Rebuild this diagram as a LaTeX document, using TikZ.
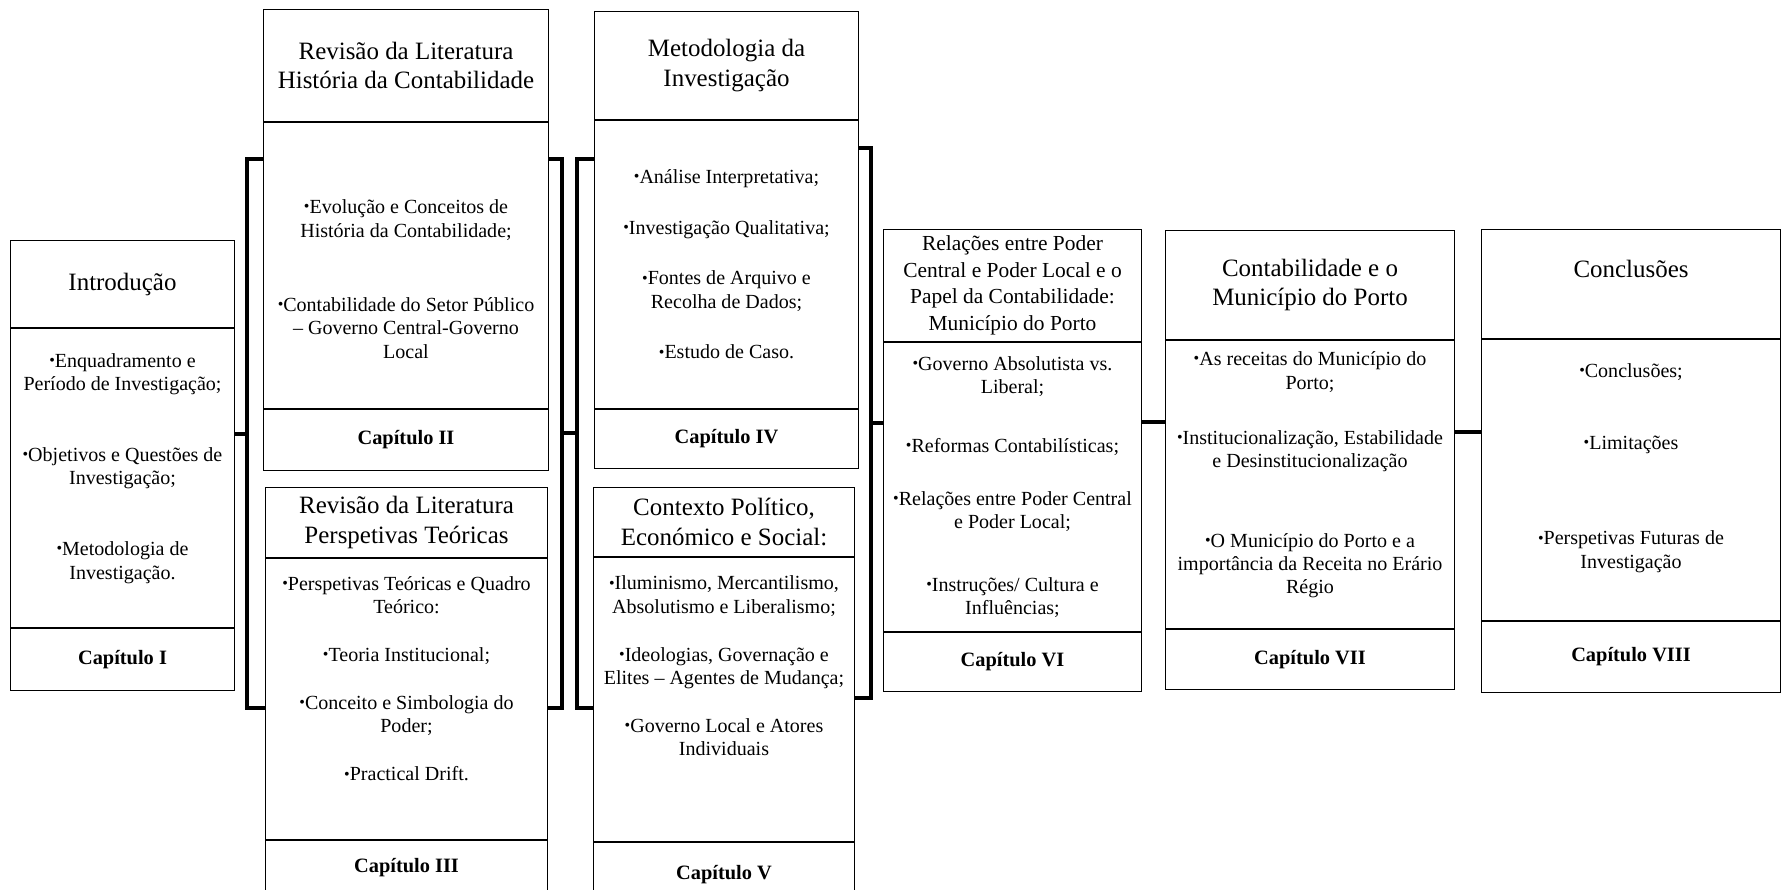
\documentclass[tikz,border=0pt]{standalone}
\usepackage{fontspec}
\usepackage{graphicx}
\setmainfont{Liberation Serif}
\usetikzlibrary{positioning}

\newcommand{\itm}{\raisebox{0.2ex}{\scalebox{0.8}{\textbullet}}}

\begin{document}
\begin{tikzpicture}[
    x=0.02cm, y=-0.02cm,
    box/.style={draw, line width=0.6pt, align=center, inner sep=1pt},
    head/.style={box, font=\fontsize{14.2}{17}\selectfont},
    body/.style={box, font=\fontsize{11.4}{13.3}\selectfont},
    foot/.style={box, font=\fontsize{11.6}{14}\selectfont\bfseries},
    bar/.style={line width=1.8pt}
  ]
    \useasboundingbox (0,0) rectangle (1787,889);
    \clip (0,0) rectangle (1787,889);

    % Capitulo I
    \node[head, anchor=north west, minimum width=4.48cm, minimum height=1.74cm] (c1h) at (10,240) {Introdução};
    \node[body, below=0pt of c1h, minimum width=4.48cm, minimum height=5.98cm] (c1b) {\itm Enquadramento e\\Período de Investigação;\\[27pt]\itm Objetivos e Questões de\\Investigação;\\[27pt]\itm Metodologia de\\Investigação.\\\mbox{}};
    \node[foot, below=0pt of c1b, minimum width=4.48cm, minimum height=1.24cm] (c1f) {Capítulo I};

    % Capitulo II
    \node[head, anchor=north west, minimum width=5.7cm, minimum height=2.24cm] (c2h) at (263,9) {Revisão da Literatura\\História da Contabilidade};
    \node[body, below=0pt of c2h, minimum width=5.7cm, minimum height=5.72cm] (c2b) {\mbox{}\\[10pt]\itm Evolução e Conceitos de\\História da Contabilidade;\\[29pt]\itm Contabilidade do Setor Público\\– Governo Central-Governo\\Local};
    \node[foot, below=0pt of c2b, minimum width=5.7cm, minimum height=1.22cm] (c2f) {Capítulo II};

    % Capitulo III
    \node[head, anchor=north west, minimum width=5.64cm, minimum height=1.4cm] (c3h) at (265,487) {Revisão da Literatura\\Perspetivas Teóricas};
    \node[body, below=0pt of c3h, minimum width=5.64cm, minimum height=5.62cm] (c3b) {\itm Perspetivas Teóricas e Quadro\\Teórico:\\[14pt]\itm Teoria Institucional;\\[14pt]\itm Conceito e Simbologia do\\Poder;\\[14pt]\itm Practical Drift.\\[10pt]\mbox{}};
    \node[foot, below=0pt of c3b, minimum width=5.64cm, minimum height=1.08cm] (c3f) {Capítulo III};

    % Capitulo IV
    \node[head, anchor=north west, minimum width=5.28cm, minimum height=2.16cm] (c4h) at (594,11) {Metodologia da\\Investigação};
    \node[body, below=0pt of c4h, minimum width=5.28cm, minimum height=5.76cm] (c4b) {\itm Análise Interpretativa;\\[15.5pt]\itm Investigação Qualitativa;\\[15.5pt]\itm Fontes de Arquivo e\\Recolha de Dados;\\[15.5pt]\itm Estudo de Caso.};
    \node[foot, below=0pt of c4b, minimum width=5.28cm, minimum height=1.18cm] (c4f) {Capítulo IV};

    % Capitulo V
    \node[head, anchor=north west, minimum width=5.22cm, minimum height=1.38cm] (c5h) at (593,487) {Contexto Político,\\Económico e Social:};
    \node[body, below=0pt of c5h, minimum width=5.22cm, minimum height=5.68cm] (c5b) {\itm Iluminismo, Mercantilismo,\\Absolutismo e Liberalismo;\\[14pt]\itm Ideologias, Governação e\\Elites – Agentes de Mudança;\\[14pt]\itm Governo Local e Atores\\Individuais\\[25pt]\mbox{}};
    \node[foot, below=0pt of c5b, minimum width=5.22cm, minimum height=1.3cm] (c5f) {Capítulo V};

    % Capitulo VI
    \node[head, anchor=north west, minimum width=5.16cm, minimum height=2.24cm, font=\fontsize{12.2}{15.1}\selectfont] (c6h) at (883,229) {Relações entre Poder\\Central e Poder Local e o\\Papel da Contabilidade:\\Município do Porto};
    \node[body, below=0pt of c6h, minimum width=5.16cm, minimum height=5.78cm] (c6b) {\itm Governo Absolutista vs.\\Liberal;\\[20pt]\itm Reformas Contabilísticas;\\[17pt]\itm Relações entre Poder Central\\e Poder Local;\\[22pt]\itm Instruções/ Cultura e\\Influências;};
    \node[foot, below=0pt of c6b, minimum width=5.16cm, minimum height=1.18cm] (c6f) {Capítulo VI};

    % Capitulo VII
    \node[head, anchor=north west, minimum width=5.78cm, minimum height=2.18cm] (c7h) at (1165,230) {Contabilidade e o\\Município do Porto};
    \node[body, below=0pt of c7h, minimum width=5.78cm, minimum height=5.76cm] (c7b) {\itm As receitas do Município do\\Porto;\\[18pt]\itm Institucionalização, Estabilidade\\e Desinstitucionalização\\[32pt]\itm O Município do Porto e a\\importância da Receita no Erário\\Régio\\\mbox{}};
    \node[foot, below=0pt of c7b, minimum width=5.78cm, minimum height=1.2cm] (c7f) {Capítulo VII};

    % Capitulo VIII
    \node[head, anchor=north west, minimum width=5.98cm, minimum height=2.18cm] (c8h) at (1481,229) {Conclusões\\\mbox{}};
    \node[body, below=0pt of c8h, minimum width=5.98cm, minimum height=5.62cm] (c8b) {\itm Conclusões;\\[28pt]\itm Limitações\\[41pt]\itm Perspetivas Futuras de\\Investigação\\[3pt]\mbox{}};
    \node[foot, below=0pt of c8b, minimum width=5.98cm, minimum height=1.42cm] (c8f) {Capítulo VIII};

    % brackets
    \coordinate (jA) at (247,434);
    \coordinate (tA) at (247,159);
    \coordinate (bA) at (247,708);
    \coordinate (jB) at (562,433);
    \coordinate (jC) at (577,433);
    \coordinate (tD) at (871,148);
    \coordinate (bD) at (871,698);
    \coordinate (jD) at (871,423);
    \coordinate (j6) at (1150,422);
    \coordinate (j7) at (1470,432);

    \draw[bar] (c1b.east |- jA) -- (jA);
    \draw[bar] (c2b.west |- tA) -- (tA) -- (bA) -- (c3b.west |- bA);
    \draw[bar] (c2b.east |- tA) -| (jB) |- (c3b.east |- bA);
    \draw[bar] (jB) -- (jC);
    \draw[bar] (c4b.west |- tA) -| (jC) |- (c5b.west |- bA);
    \draw[bar] (c4b.east |- tD) -- (tD) -- (bD) -- (c5b.east |- bD);
    \draw[bar] (jD) -- (c6b.west |- jD);
    \draw[bar] (c6b.east |- j6) -- (c7b.west |- j6);
    \draw[bar] (c7b.east |- j7) -- (c8b.west |- j7);
\end{tikzpicture}
\end{document}
